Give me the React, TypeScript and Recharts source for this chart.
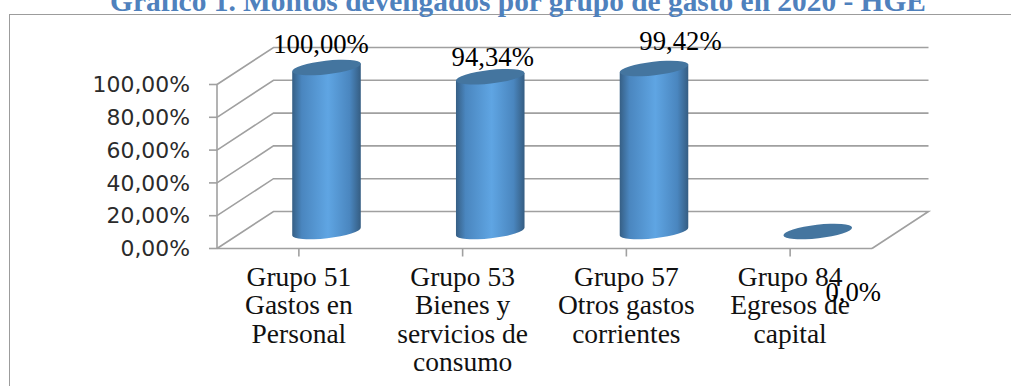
import { BarChart, Bar, XAxis, YAxis, CartesianGrid, LabelList } from 'recharts';

const categories = [
  'Grupo 51\nGastos en\nPersonal',
  'Grupo 53\nBienes y\nservicios de\nconsumo',
  'Grupo 57\nOtros gastos\ncorrientes',
  'Grupo 84\nEgresos de\ncapital',
];
const values = [100, 94.34, 99.42, 0];
const valueLabels = ['100,00%', '94,34%', '99,42%', '0,0%'];
const yTicks = [0, 20, 40, 60, 80, 100];

// hand placed labels, relative to the top centre of each bar
const labelDx = [22, 30, 54, 63];
const labelDy = [-32, -28, -35, 52];

const chartData = categories.map((name, i) => ({ name, value: values[i] }));

// depth of the fake 3D box
const WALL_DX = 56.5;
const WALL_DY = -37;
const BAR_DX = 27.5;
const BAR_DY = -17;
const GREY = '#a0a0a0';
const SERIF = '"Liberation Serif", serif';

const gridLine = (props: any) => {
  const { x1, y1, x2, index } = props;
  const isFloor = y1 >= props.y + props.height - 1;
  const bx = x1 + WALL_DX;
  const by = y1 + WALL_DY;
  const ex = x2 + WALL_DX;
  const d = `M${x1},${y1} L${bx},${by} L${ex},${by}` + (isFloor ? ` L${x2},${y1}` : '');
  return <path key={index} d={d} fill="none" stroke={GREY} strokeWidth={1.6} />;
};

const Cylinder = (props: any) => {
  const { x, y, width, height } = props;
  const cx = x + width / 2 + BAR_DX;
  const top = y + BAR_DY;
  const bottom = y + height + BAR_DY;
  const rx = width / 2 + 0.5;
  const ry = 6.8;
  const tilt = 6.5;
  const lift = rx * Math.sin((tilt * Math.PI) / 180);
  const run = rx * Math.cos((tilt * Math.PI) / 180);
  const body =
    `M${cx - run},${top + lift} L${cx - run},${bottom + lift} ` +
    `A${rx},${ry} ${-tilt} 0 0 ${cx + run},${bottom - lift} L${cx + run},${top - lift} Z`;
  return (
    <g>
      {height > 0 && <path d={body} fill="url(#cylinderFill)" />}
      <ellipse
        cx={cx}
        cy={top}
        rx={rx}
        ry={ry}
        fill="#44759f"
        transform={`rotate(${-tilt} ${cx} ${top})`}
      />
    </g>
  );
};

const ValueLabel = (props: any) => {
  const { x, y, width, index } = props;
  return (
    <text
      x={x + width / 2 + labelDx[index]}
      y={y + labelDy[index]}
      textAnchor="middle"
      fontFamily={SERIF}
      fontSize={26.7}
      fill="#000"
    >
      {valueLabels[index]}
    </text>
  );
};

const CategoryTick = (props: any) => {
  const { x, payload } = props;
  return (
    <text textAnchor="middle" fontFamily={SERIF} fontSize={27.5} fill="#111">
      {String(payload.value)
        .split('\n')
        .map((line, i) => (
          <tspan key={i} x={x} y={286 + i * 28.3}>
            {line}
          </tspan>
        ))}
    </text>
  );
};

export default function App() {
  return (
    <div
      style={{
        position: 'fixed',
        left: 0,
        top: 0,
        width: 1011,
        height: 386,
        overflow: 'hidden',
        background: '#fff',
      }}
    >
      <div
        style={{
          position: 'absolute',
          left: 9,
          top: 14,
          width: 1100,
          height: 500,
          border: `1.5px solid #9c9c9c`,
        }}
      />
      <div
        style={{
          position: 'absolute',
          left: 0,
          width: 1036,
          top: -14,
          textAlign: 'center',
          fontFamily: SERIF,
          fontWeight: 'bold',
          fontSize: 29.4,
          lineHeight: '30px',
          color: '#4f81bd',
          whiteSpace: 'nowrap',
        }}
      >
        Gráfico 1. Montos devengados por grupo de gasto en 2020 - HGE
      </div>
      <div style={{ position: 'absolute', left: 0, top: 0 }}>
        <BarChart
          width={1011}
          height={386}
          data={chartData}
          margin={{ top: 84.5, right: 139, bottom: 0, left: 97 }}
          barSize={68}
        >
          <defs>
            <linearGradient id="cylinderFill" x1="0" y1="0" x2="1" y2="0">
              <stop offset="0%" stopColor="#365f85" />
              <stop offset="14%" stopColor="#4a86bf" />
              <stop offset="52%" stopColor="#5fa5e3" />
              <stop offset="84%" stopColor="#4a86bf" />
              <stop offset="100%" stopColor="#355d82" />
            </linearGradient>
          </defs>
          <CartesianGrid vertical={false} horizontal={gridLine} />
          <XAxis
            dataKey="name"
            height={137.5}
            interval={0}
            tick={<CategoryTick />}
            stroke={GREY}
            strokeWidth={1.6}
            tickSize={8}
          />
          <YAxis
            width={120}
            domain={[0, 100]}
            ticks={yTicks}
            interval={0}
            tickFormatter={(v: number) => `${v},00%`}
            stroke={GREY}
            strokeWidth={1.6}
            tickSize={8}
            tickMargin={19}
            tick={{ fontFamily: '"DejaVu Sans", sans-serif', fontSize: 21.9, fill: '#2b2b2b' }}
          />
          <Bar dataKey="value" shape={<Cylinder />} isAnimationActive={false}>
            <LabelList content={<ValueLabel />} />
          </Bar>
        </BarChart>
      </div>
    </div>
  );
}
